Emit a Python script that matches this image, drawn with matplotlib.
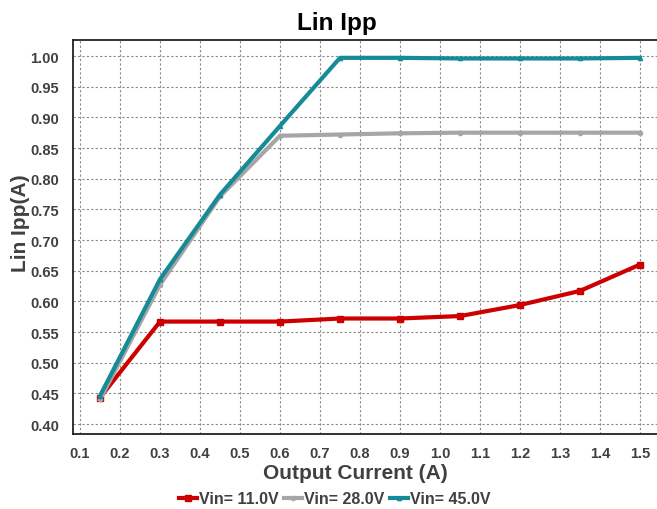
import matplotlib.pyplot as plt
import numpy as np

plt.rcParams['font.family'] = 'Liberation Sans'
plt.rcParams['font.weight'] = 'bold'

current = [0.15, 0.3, 0.45, 0.6, 0.75, 0.9, 1.05, 1.2, 1.35, 1.5]
vin_11 = [0.443, 0.567, 0.567, 0.567, 0.572, 0.572, 0.576, 0.594, 0.617, 0.660]
vin_28 = [0.440, 0.627, 0.771, 0.870, 0.872, 0.874, 0.875, 0.875, 0.875, 0.875]
vin_45 = [0.446, 0.636, 0.774, 0.886, 0.997, 0.997, 0.996, 0.996, 0.996, 0.997]

fig = plt.figure(figsize=(6.57, 5.10), dpi=100)
ax = fig.add_axes([73/657, 75/510, 600/657, 394/510])

ax.plot(current, vin_11, color='#cc0000', lw=3, marker='s', ms=4.5, label='Vin= 11.0V')
ax.plot(current, vin_28, color='#a6a6a6', lw=3, marker='o', ms=3, label='Vin= 28.0V')
ax.plot(current, vin_45, color='#168a96', lw=3, marker='^', ms=3, label='Vin= 45.0V')

ax.set_xlim(0.0825, 1.5825)
ax.set_ylim(0.3837, 1.0261)
ax.set_xticks(np.round(np.arange(0.1, 1.51, 0.1), 1))
ax.set_yticks(np.round(np.arange(0.40, 1.001, 0.05), 2))
ax.xaxis.set_major_formatter(plt.FormatStrFormatter('%.1f'))
ax.yaxis.set_major_formatter(plt.FormatStrFormatter('%.2f'))
ax.tick_params(length=0, labelsize=10.5, labelcolor='#404040', pad=10)
ax.tick_params(axis='x', pad=9)
ax.grid(True, ls=(0, (2, 2)), color='#888888', lw=0.8)
for s in ['left', 'bottom', 'top']:
    ax.spines[s].set_linewidth(1.3)
    ax.spines[s].set_color('#222222')
ax.spines['right'].set_visible(False)

fig.text(337/657, 1 - 30/510, 'Lin Ipp', fontsize=17.5, fontweight='bold', ha='center', va='baseline')
fig.text(355/657, 1 - 479/510, 'Output Current (A)', fontsize=15, fontweight='bold',
         color='#404040', ha='center', va='baseline')
fig.text(21/657, 1 - 223/510, 'Lin Ipp(A)', fontsize=15, fontweight='bold', color='#404040',
         ha='center', va='center', rotation=90)

ax.legend(loc='center', bbox_to_anchor=((335 - 73) / 600, (435 - 500) / 394), ncol=3, frameon=False,
          fontsize=11.5, handlelength=1.1, handletextpad=0.15, columnspacing=0.35,
          labelcolor='#404040', borderpad=0.1)

fig.savefig('out.png', dpi=100)
